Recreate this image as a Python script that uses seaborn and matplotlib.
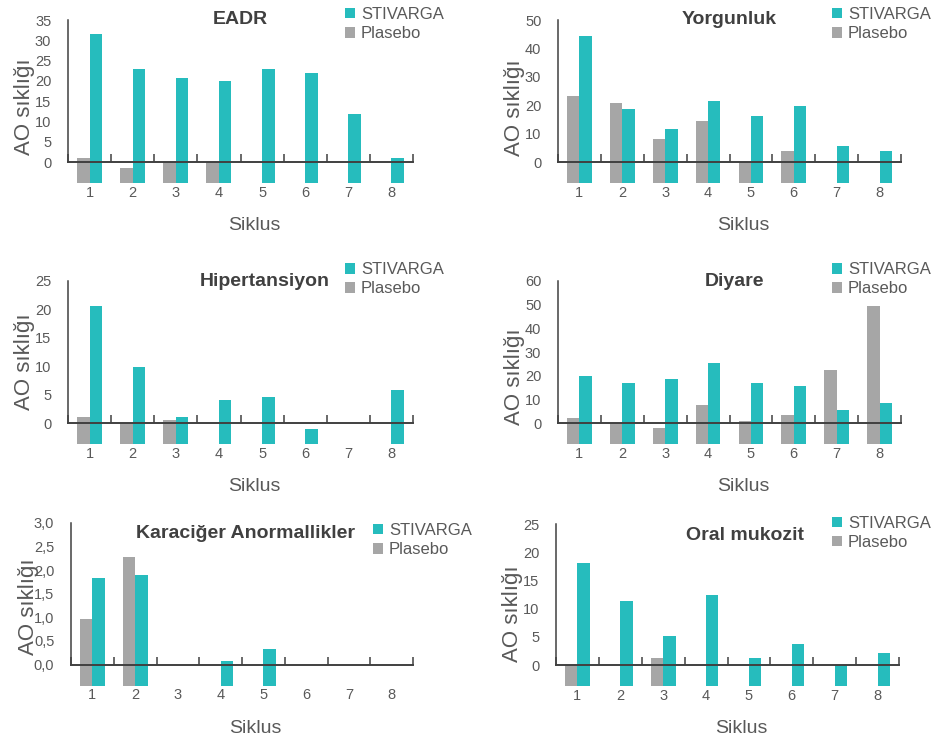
import numpy as np
import pandas as pd
import matplotlib
matplotlib.use("Agg")
import matplotlib.pyplot as plt
import seaborn as sns
from matplotlib.patches import Patch

sns.set_theme(style="white")
plt.rcParams['font.family'] = ['Liberation Sans', 'DejaVu Sans']

TEAL = '#26BCBD'
GRAY = '#A6A6A6'
TXT = '#595959'
AXC = '#404040'

nan = np.nan
siklus = ['1', '2', '3', '4', '5', '6', '7', '8']
gruplar = ['STIVARGA', 'Plasebo']

# AO sikligi per siklus
eadr_stivarga = [31.5, 22.9, 20.7, 20.0, 22.9, 22.0, 11.8, 1.1]
eadr_plasebo = [1.0, -1.5, 0.0, 0.0, nan, nan, nan, nan]
yorgunluk_stivarga = [44.4, 18.5, 11.5, 21.4, 16.2, 19.7, 5.6, 3.9]
yorgunluk_plasebo = [23.1, 20.8, 8.0, 14.4, 0.0, 3.9, nan, nan]
hiper_stivarga = [20.6, 9.9, 1.1, 4.0, 4.6, -1.0, nan, 5.8]
hiper_plasebo = [1.1, 0.0, 0.5, nan, nan, nan, nan, nan]
diyare_stivarga = [19.8, 17.0, 18.4, 25.4, 17.0, 15.5, 5.6, 8.5]
diyare_plasebo = [2.1, 0.0, -2.1, 7.8, 0.7, 3.5, 22.6, 49.4]
karaciger_stivarga = [1.83, 1.90, nan, 0.085, 0.33, nan, nan, nan]
karaciger_plasebo = [0.97, 2.29, nan, nan, nan, nan, nan, nan]
oral_stivarga = [18.1, 11.3, 5.1, 12.5, 1.3, 3.7, 0.0, 2.2]
oral_plasebo = [0.0, nan, 1.3, nan, nan, nan, nan, nan]

eadr_ticks = [0, 5, 10, 15, 20, 25, 30, 35]
yorgunluk_ticks = [0, 10, 20, 30, 40, 50]
hiper_ticks = [0, 5, 10, 15, 20, 25]
diyare_ticks = [0, 10, 20, 30, 40, 50, 60]
karaciger_ticks = [0.0, 0.5, 1.0, 1.5, 2.0, 2.5, 3.0]
karaciger_ticklabels = ['0,0', '0,5', '1,0', '1,5', '2,0', '2,5', '3,0']
oral_ticks = [0, 5, 10, 15, 20, 25]

panels = [
    ('EADR', eadr_stivarga, eadr_plasebo, eadr_ticks, [str(t) for t in eadr_ticks]),
    ('Yorgunluk', yorgunluk_stivarga, yorgunluk_plasebo, yorgunluk_ticks, [str(t) for t in yorgunluk_ticks]),
    ('Hipertansiyon', hiper_stivarga, hiper_plasebo, hiper_ticks, [str(t) for t in hiper_ticks]),
    ('Diyare', diyare_stivarga, diyare_plasebo, diyare_ticks, [str(t) for t in diyare_ticks]),
    ('Karaciğer Anormallikler', karaciger_stivarga, karaciger_plasebo, karaciger_ticks, karaciger_ticklabels),
    ('Oral mukozit', oral_stivarga, oral_plasebo, oral_ticks, [str(t) for t in oral_ticks]),
]

# layout in pixels: (left, right, top, bottom), title pos, legend pos, ylabel y
W, H = 933, 745
layout = [
    dict(px=(68, 413, 20, 183), title=(0.50, 1.0), leg=(0.803, 1.08), ylab=0.47),
    dict(px=(558, 901, 20, 183), title=(0.50, 1.0), leg=(0.799, 1.08), ylab=0.46),
    dict(px=(68, 413, 281, 444), title=(0.571, 1.0), leg=(0.803, 1.115), ylab=0.505),
    dict(px=(558, 901, 281, 444), title=(0.516, 1.0), leg=(0.799, 1.115), ylab=0.413),
    dict(px=(71, 413, 523, 685.5), title=(0.509, 0.938), leg=(0.883, 1.0), ylab=0.485),
    dict(px=(556, 899, 524, 686), title=(0.551, 0.932), leg=(0.805, 1.05), ylab=0.449),
]

fig = plt.figure(figsize=(W / 100, H / 100), dpi=100)
fig.patch.set_facecolor('white')

for (title, stiv, plas, yticks, ylabels), lay in zip(panels, layout):
    x0, x1, t, b = lay['px']
    ax = fig.add_axes([x0 / W, 1 - b / H, (x1 - x0) / W, (b - t) / H])
    df = pd.DataFrame({
        'Siklus': siklus * 2,
        'Grup': ['STIVARGA'] * 8 + ['Plasebo'] * 8,
        'AO': stiv + plas,
    }).dropna()
    sns.barplot(data=df, x='Siklus', y='AO', hue='Grup', order=siklus,
                hue_order=['Plasebo', 'STIVARGA'],
                palette={'Plasebo': GRAY, 'STIVARGA': TEAL},
                width=0.58, errorbar=None, legend=False, saturation=1,
                linewidth=0, ax=ax)

    ymax = yticks[-1]
    base = -ymax * 21 / 142
    # bars hang down to a common floor below the zero line
    for p in ax.patches:
        top = p.get_y() + p.get_height()
        if np.isnan(top):
            continue
        p.set_y(base)
        p.set_height(top - base)

    ax.set_xlim(-0.5, 7.5)
    ax.set_ylim(base, ymax)
    ax.set_facecolor('white')
    for s in ['top', 'right']:
        ax.spines[s].set_visible(False)
    ax.spines['left'].set_bounds(0, ymax)
    ax.spines['left'].set_color(AXC)
    ax.spines['left'].set_linewidth(1.1)
    ax.spines['bottom'].set_position(('data', 0))
    ax.spines['bottom'].set_color(AXC)
    ax.spines['bottom'].set_linewidth(1.4)

    ax.set_yticks(yticks, ylabels)
    ax.tick_params(axis='y', length=0, pad=12, labelsize=10.5, labelcolor=TXT)
    ax.set_xticks(range(8), siklus)
    ax.set_xticks(np.arange(-0.5, 8, 1), minor=True)
    ax.tick_params(axis='x', which='major', length=0, pad=17, labelsize=10.5, labelcolor=TXT)
    ax.tick_params(axis='x', which='minor', bottom=True, direction='in',
                   length=6, width=1.1, color=AXC)

    ax.set_xlabel('Siklus', fontsize=14, color=TXT)
    ax.xaxis.set_label_coords(0.54, -0.21)
    ax.set_ylabel('AO sıklığı', fontsize=16, color=TXT)
    ax.yaxis.set_label_coords(-0.095, lay['ylab'])

    tx, ty = lay['title']
    ax.text(tx, ty, title, transform=ax.transAxes, ha='center', va='center',
            fontsize=14, fontweight='bold', color=AXC)

    handles = [Patch(facecolor=TEAL, edgecolor='none'), Patch(facecolor=GRAY, edgecolor='none')]
    ax.legend(handles, gruplar, loc='upper left', bbox_to_anchor=lay['leg'],
              frameon=False, fontsize=12, labelcolor=TXT, handlelength=0.6,
              handleheight=0.6, handletextpad=0.35, labelspacing=0.25,
              borderpad=0, borderaxespad=0)

fig.savefig('out.png', dpi=100, facecolor='white')
